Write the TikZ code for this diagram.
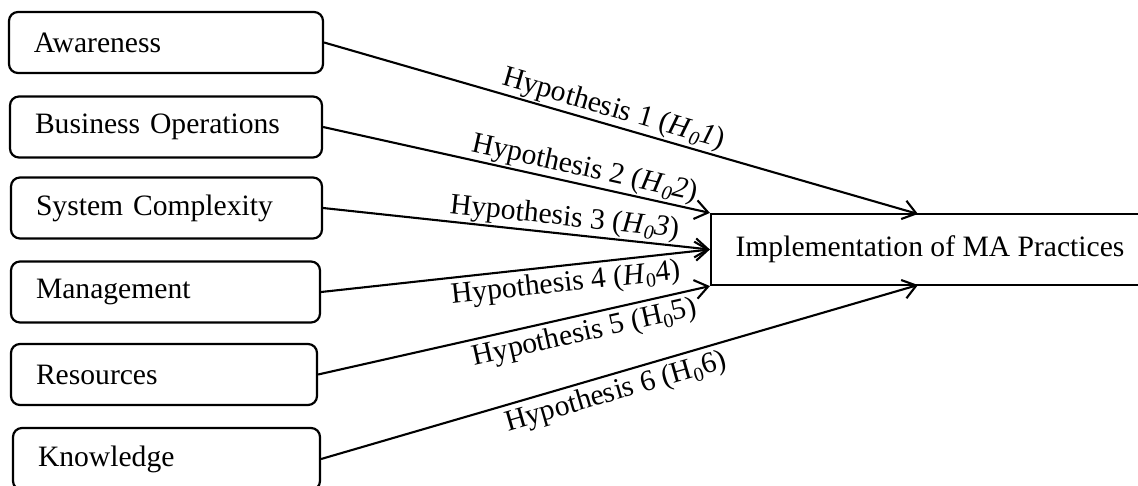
\documentclass[tikz,border=0pt]{standalone}
\usepackage{fontspec}
\setmainfont{Liberation Serif}
\usetikzlibrary{arrows.meta}
\newcommand{\subz}[1]{\raisebox{-5pt}{\fontsize{20}{20}\selectfont #1}}
\begin{document}
\begin{tikzpicture}[x=1pt,y=-1pt,
  font=\fontsize{29.6}{34}\selectfont,
  lbox/.style={draw, line width=2.2pt, rounded corners=9pt, inner xsep=25pt, inner ysep=0pt,
    minimum height=61pt, text width=#1, align=left},
  rbox/.style={draw, line width=2.2pt, minimum width=438pt, minimum height=71pt, inner sep=0pt},
  arr/.style={line width=2.1pt, -{Straight Barb[length=13pt,width=19pt,line width=2.1pt]}},
  labA/.style={sloped, above, inner sep=1pt},
  labB/.style={sloped, below, inner sep=4.5pt}]
\useasboundingbox (0,0) rectangle (1138,485);
\clip (0,0) rectangle (1138,485);
\node[lbox=264pt] (aw) at (166,42.5) {Awareness};
\node[lbox=262pt] (bo) at (166,127) {Business Operations};
\node[lbox=261pt] (sc) at (166.5,208) {System Complexity};
\node[lbox=259pt] (mg) at (165.5,292) {Management};
\node[lbox=256pt] (rs) at (164,374.5) {Resources};
\node[lbox=257pt, minimum height=62pt] (kn) at (166.5,459) {Knowledge};
\node[rbox] (impl) at (930,249.5) {Implementation of MA Practices};
\coordinate (t1) at (918,214);
\coordinate (t6) at (918,285);
\draw[arr] (aw.east) -- (t1) node[labA, pos=0.48] {Hypothesis 1 (\textit{H}\subz{\textit{0}}\textit{1})};
\draw[arr] (bo.east) -- (impl.north west) node[labA, pos=0.667] {Hypothesis 2 (\textit{H}\subz{\textit{0}}\textit{2})};
\draw[arr] (sc.east) -- (impl.west) node[labA, pos=0.62] {Hypothesis 3 (\textit{H}\subz{\textit{0}}\textit{3})};
\draw[arr] (mg.east) -- (impl.west) node[labB, pos=0.624] {Hypothesis 4 (\textit{H}\subz{0}4)};
\draw[arr] (rs.east) -- (impl.south west) node[labB, pos=0.67] {Hypothesis 5 (H\subz{0}5)};
\draw[arr] (kn.east) -- (t6) node[labB, pos=0.485] {Hypothesis 6 (H\subz{0}6)};
\end{tikzpicture}
\end{document}
